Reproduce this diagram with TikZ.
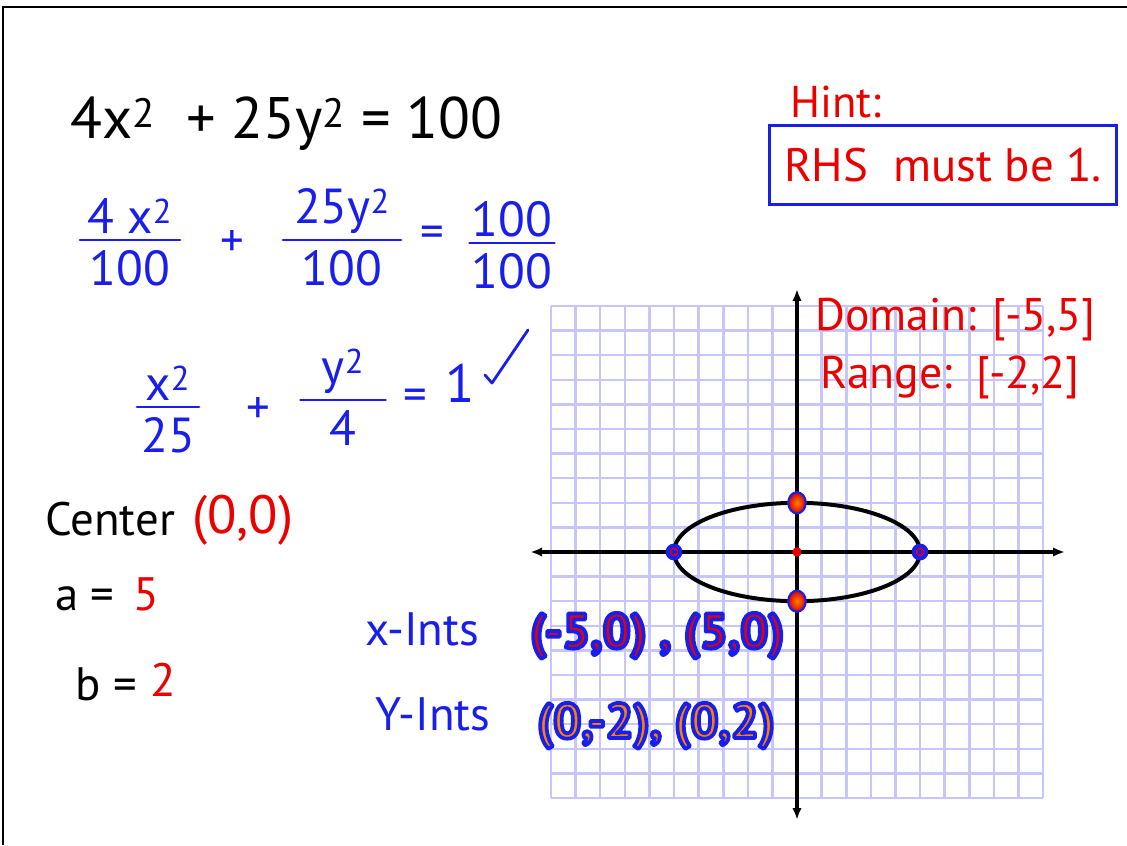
\documentclass[tikz,border=0pt]{standalone}
\usepackage{fontspec}
\setmainfont{PT Sans}
\usetikzlibrary{arrows.meta,shapes.geometric}
\definecolor{penblue}{RGB}{25,30,235}
\definecolor{penred}{RGB}{235,0,0}
\definecolor{gridblue}{RGB}{198,198,250}
% blue outlined marker text
\newcommand\outl[2]{\textcolor{#1}{\special{pdf:literal direct 0.1 0.12 0.92 RG 3.2 w 1 j 2 Tr}#2\special{pdf:literal direct 0 Tr}}}

\begin{document}
\begin{tikzpicture}[x=0.03cm, y=-0.03cm,
  hw/.style={inner sep=0pt, font=\fontsize{40}{46}\selectfont},
  hwb/.style={hw, text=penblue},
  hwr/.style={hw, text=penred},
  fr/.style={hwb, font=\fontsize{42}{48}\selectfont},
  bar/.style={penblue, line width=2.4pt, line cap=round},
  gridln/.style={gridblue, line width=2.2pt},
  ax/.style={line width=3.2pt, {Latex[length=10pt,width=8pt]}-{Latex[length=10pt,width=8pt]}},
  ydot/.style={ellipse, draw=penblue, line width=1.8pt, inner sep=0pt, minimum width=15pt, minimum height=18pt, shading=radial, inner color=orange, outer color=red!85!black},
  xdot/.style={circle, draw=penblue, fill=penblue, line width=1.4pt, minimum size=13pt, inner sep=0pt,
    path picture={\draw[penred, line width=1.2pt] (path picture bounding box.center) circle (3pt);}},
  cdot/.style={circle, fill=penred, minimum size=8pt, inner sep=0pt}
]
\useasboundingbox (0,0) rectangle (1127,845);
\fill[white] (0,0) rectangle (1127,845);
\draw[line width=2.2pt] (3,845) -- (3,7) -- (1127,7);

% graph paper, axes and ellipse
\begin{scope}[shift={(797,552)}, xscale=24.6, yscale=-24.6]
  \foreach \i in {-10,...,10} {
    \draw[gridln] (\i,-10) -- (\i,10);
    \draw[gridln] (-10,\i) -- (10,\i);
  }
  \coordinate (xl) at (-10.85,0);
  \coordinate (xr) at (10.9,0);
  \coordinate (yt) at (0,10.7);
  \coordinate (yb) at (0,-10.9);
  \draw[ax] (xl) -- (xr);
  \draw[ax] (yb) -- (yt);
  \draw[line width=3.4pt] (0,0) ellipse [x radius=5, y radius=2];
  \node[xdot] (p1) at (-5,0) {};
  \node[xdot] (p2) at (5,0) {};
  \node[ydot] (p3) at (0,2) {};
  \node[ydot] (p4) at (0,-2) {};
  \node[cdot] (o) at (0,0) {};
\end{scope}

% equation
\node[hw, anchor=base west, font=\fontsize{50}{56}\selectfont] (eq) at (70,138) {4x\textsuperscript{2}\ \ + 25y\textsuperscript{2} = 100};

% fractions
\foreach \n/\x/\y/\w/\a/\b in {
 1/130/240/100/{4 x\textsuperscript{2}}/100,
 2/342/240/118/{25y\textsuperscript{2}}/100,
 3/512/243/85/100/100,
 4/168/407/62/{x\textsuperscript{2}}/25,
 5/343/400/85/{y\textsuperscript{2}}/4}
{
 \node[fr, anchor=south] (n\n) at (\x,\y-6) {\a};
 \node[fr, anchor=north] (d\n) at (\x,\y+10) {\b};
 \draw[bar] (\x-\w/2,\y) -- (\x+\w/2,\y);
}
\node[hwb] (pl1) at (232,243) {+};
\node[hwb] (eq1) at (432,237) {=};
\node[hwb] (pl2) at (258,410) {+};
\node[hwb] (eq2) at (415,400) {=};
\node[hwb, font=\fontsize{46}{52}\selectfont] (one) at (460,383) {1};
\draw[penblue, line width=2.4pt, line cap=round, line join=round] (485,375) -- (492,383) -- (528,330);

% center and semi-axes
\node[hw, anchor=base west] (ctr) at (45,535) {Center};
\node[hwr, anchor=base west, font=\fontsize{46}{52}\selectfont] (ctrv) at (192,533) {(0,0)};
\node[hw, anchor=base west] (a) at (55,610) {a =};
\node[hwr, anchor=base west] (av) at (133,610) {5};
\node[hw, anchor=base west] (b) at (75,700) {b =};
\node[hwr, anchor=base west] (bv) at (150,696) {2};

% hint
\node[hwr, anchor=base west, font=\fontsize{38}{44}\selectfont] (hint) at (790,118) {Hint:};
\node[hwr, draw=penblue, line width=2.6pt, minimum width=296pt, minimum height=68pt, font=\fontsize{40}{46}\selectfont] (rhs) at (943,165) {RHS\ \ must be 1.};

% domain and range
\node[hwr, anchor=base west, font=\fontsize{39}{45}\selectfont] (dom) at (815,330) {Domain: [-5,5]};
\node[hwr, anchor=base west, font=\fontsize{39}{45}\selectfont] (rng) at (820,388) {Range:\ \ [-2,2]};

% intercepts
\node[hwb, anchor=base west] (xi) at (365,645) {x-Ints};
\node[hw, anchor=base west, font=\fontsize{42}{48}\selectfont\bfseries] (xiv) at (530,648) {\outl{penred}{(-5,0) , (5,0)}};
\node[hwb, anchor=base west] (yi) at (375,730) {Y-Ints};
\node[hw, anchor=base west, font=\fontsize{42}{48}\selectfont\bfseries] (yiv) at (537,738) {\outl{orange}{(0,-2), (0,2)}};
\end{tikzpicture}
\end{document}
